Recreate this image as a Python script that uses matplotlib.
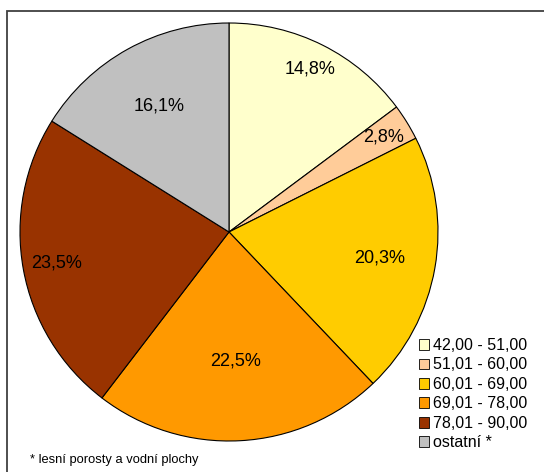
import matplotlib
matplotlib.use("Agg")
import matplotlib.pyplot as plt
from matplotlib.patches import Rectangle
import numpy as np

categories = ["42,00 - 51,00", "51,01 - 60,00", "60,01 - 69,00",
              "69,01 - 78,00", "78,01 - 90,00", "ostatní *"]
values = [14.8, 2.8, 20.3, 22.5, 23.5, 16.1]
pct_labels = ["14,8%", "2,8%", "20,3%", "22,5%", "23,5%", "16,1%"]
colors = ["#FFFFCC", "#FFCC99", "#FFCC00", "#FF9900", "#993300", "#C0C0C0"]
label_r = [0.87, 0.87, 0.73, 0.62, 0.84, 0.69]
footnote = "* lesní porosty a vodní plochy"

plt.rcParams['font.family'] = ['Liberation Sans', 'DejaVu Sans']

W, H = 544, 472
fig = plt.figure(figsize=(W / 100, H / 100), dpi=100)

# frame
fig.patches.append(Rectangle((6.5 / W, -0.1), 1.2, (H - 10.5) / H + 0.1,
                             transform=fig.transFigure, fill=False,
                             edgecolor="#404040", linewidth=1.3))

ax = fig.add_axes([20 / W, (H - 441) / H, 418 / W, 418 / H])
wedges, _ = ax.pie(values, colors=colors, startangle=90, counterclock=False,
                   radius=1.0, wedgeprops=dict(edgecolor="black", linewidth=0.8))
ax.set_xlim(-1, 1)
ax.set_ylim(-1, 1)
ax.set_aspect("equal")
ax.axis("off")

for w, lab, r in zip(wedges, pct_labels, label_r):
    ang = np.deg2rad((w.theta1 + w.theta2) / 2)
    ax.text(r * np.cos(ang), r * np.sin(ang), lab, ha="center", va="center",
            fontsize=13, color="black")

leg = fig.legend(wedges, categories, loc="upper left",
                 bbox_to_anchor=(419 / W, (H - 338) / H),
                 frameon=False, fontsize=11.5, handlelength=0.65, handleheight=0.65,
                 handletextpad=0.25, labelspacing=0.28, borderpad=0.0,
                 borderaxespad=0.0)
for p in leg.get_patches():
    p.set_edgecolor("black")
    p.set_linewidth(0.6)

fig.text(30 / W, (H - 460) / H, footnote, fontsize=9.3, ha="left", va="center")

fig.savefig("out.png", dpi=100)
